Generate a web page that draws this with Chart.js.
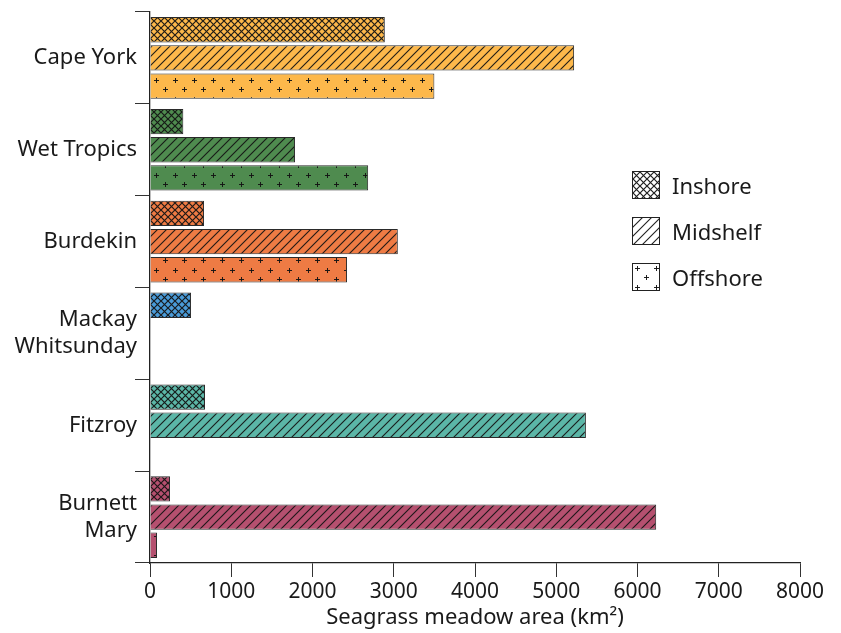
<!DOCTYPE html>
<html>
<head>
<meta charset="utf-8">
<script src="https://cdn.jsdelivr.net/npm/chart.js@4.4.0/dist/chart.umd.min.js"></script>
<style>
  body { margin: 0; background: #fff; font-family: 'Noto Sans', sans-serif; }
  #wrap { position: relative; width: 841px; height: 633px; }
  #legend { position: absolute; left: 632px; top: 172px; }
  .item { display: flex; align-items: center; height: 26px; margin-bottom: 20px; }
  .item canvas { border: 1px solid #222; box-sizing: border-box; }
  .item span { margin-left: 12px; font-size: 22px; color: #1a1a1a; }
</style>
</head>
<body>
<div id="wrap">
  <canvas id="chart" width="841" height="633"></canvas>
  <div id="legend"></div>
</div>
<script>
// ---- DATA ----
const regions = ['Cape York', 'Wet Tropics', 'Burdekin', ['Mackay', 'Whitsunday'], 'Fitzroy', ['Burnett', 'Mary']];
const shelfZones = ['Inshore', 'Midshelf', 'Offshore'];
const inshore  = [2890, 410, 665, 505, 677, 246];
const midshelf = [5220, 1785, 3050, null, 5365, 6230];
const offshore = [3500, 2685, 2425, null, null, 86];
const regionColors = ['#fdb84b', '#4f8b4f', '#ee7b44', '#4a9bd8', '#5bb6a7', '#b5506f'];
const xMax = 8000;
const xStep = 1000;

// ---- PATTERNS ----
function makePattern(kind, bg) {
  const c = document.createElement('canvas');
  const size = kind === 'cross' ? 7 : kind === 'diag' ? 9 : 19;
  c.width = size; c.height = size;
  const g = c.getContext('2d');
  g.fillStyle = bg;
  g.fillRect(0, 0, size, size);
  g.strokeStyle = 'rgba(20,20,20,0.95)';
  g.fillStyle = 'rgba(20,20,20,0.95)';
  g.lineWidth = kind === 'cross' ? 1.2 : 1.1;
  if (kind === 'cross') {
    g.beginPath();
    g.moveTo(0, 0); g.lineTo(size, size);
    g.moveTo(0, size); g.lineTo(size, 0);
    g.stroke();
  } else if (kind === 'diag') {
    g.beginPath();
    g.moveTo(0, size); g.lineTo(size, 0);
    g.moveTo(-1, 1); g.lineTo(1, -1);
    g.moveTo(size - 1, size + 1); g.lineTo(size + 1, size - 1);
    g.stroke();
  } else {
    [[4, 4], [13, 13]].forEach(([x, y]) => {
      g.fillRect(x - 2, y, 5, 1);
      g.fillRect(x, y - 2, 1, 5);
    });
  }
  return g.createPattern(c, 'repeat');
}

const kinds = ['cross', 'diag', 'plus'];
const series = [inshore, midshelf, offshore];

const datasets = shelfZones.map((name, i) => ({
  label: name,
  data: series[i],
  backgroundColor: regionColors.map(col => makePattern(kinds[i], col)),
  borderColor: '#2a2a2a',
  borderWidth: 1,
  categoryPercentage: 0.92,
  barPercentage: 0.9
}));

// ---- CHART ----
const ctx = document.getElementById('chart').getContext('2d');
new Chart(ctx, {
  type: 'bar',
  data: { labels: regions, datasets },
  options: {
    indexAxis: 'y',
    responsive: false,
    animation: false,
    layout: { padding: { top: 12, right: 41, left: 0, bottom: 0 } },
    plugins: { legend: { display: false }, tooltip: { enabled: false } },
    scales: {
      y: {
        afterFit: s => { s.width = 150; s.paddingTop = 0; s.paddingBottom = 0; },
        grid: { drawOnChartArea: false, offset: true, tickLength: 15, color: '#333', lineWidth: 1 },
        border: { color: '#222', width: 1.3 },
        ticks: { color: '#1a1a1a', padding: -2, font: { family: 'Noto Sans', size: 22, lineHeight: 1.25 } }
      },
      x: {
        min: 0, max: xMax,
        afterFit: s => { s.height = 70; },
        grid: { drawOnChartArea: false, tickLength: 14, color: '#333' },
        border: { color: '#222', width: 1.3 },
        ticks: { stepSize: xStep, color: '#1a1a1a', padding: 2, callback: v => String(v), font: { family: 'Noto Sans', size: 21 } },
        title: { display: true, text: 'Seagrass meadow area (km²)', color: '#1a1a1a', padding: { top: 0, bottom: 2 }, font: { family: 'Noto Sans', size: 22 } }
      }
    }
  }
});

// ---- LEGEND ----
const legend = document.getElementById('legend');
shelfZones.forEach((name, i) => {
  const item = document.createElement('div');
  item.className = 'item';
  const sw = document.createElement('canvas');
  sw.width = 26; sw.height = 26;
  const sg = sw.getContext('2d');
  sg.fillStyle = makePattern(kinds[i], '#fff');
  sg.fillRect(0, 0, 26, 26);
  const label = document.createElement('span');
  label.textContent = name;
  item.appendChild(sw);
  item.appendChild(label);
  legend.appendChild(item);
});
</script>
</body>
</html>
